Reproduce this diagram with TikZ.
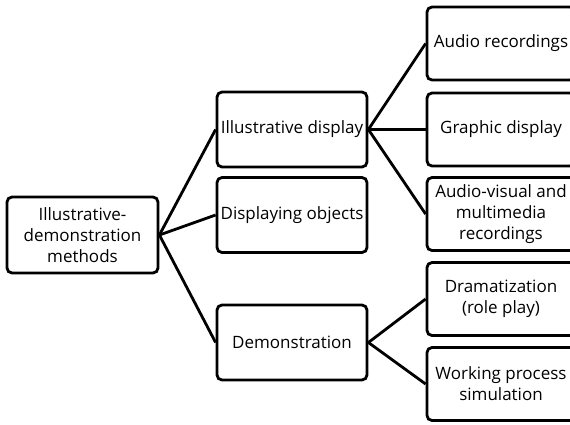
\documentclass[tikz,border=0pt]{standalone}
\usepackage{fontspec}
\setmainfont{Open Sans}

\begin{document}
\begin{tikzpicture}[x=1pt,y=-1pt,-,node distance=206pt,line width=2.8pt,
    main node/.style={rectangle,rounded corners=5pt,draw,align=center,inner sep=1pt,font=\fontsize{17}{21}\selectfont},
    root node/.style={main node,minimum width=151pt,minimum height=76pt},
    mid node/.style={main node,minimum width=150pt,minimum height=75pt},
    leaf node/.style={main node,minimum width=148pt,minimum height=73pt}]
    \useasboundingbox (0,0) rectangle (570,424);
    \clip (0,0) rectangle (570,424);
            \node[root node] (root) at (82.5,235) {Illustrative-\\demonstration\\methods};

            \node[mid node] (display) [right of=root, xshift=3.5pt, yshift=105.5pt] {Illustrative display};
            \node[mid node] (objects) [right of=root, xshift=3.5pt, yshift=20pt] {Displaying objects};
            \node[mid node] (demo) [right of=root, xshift=3.5pt, yshift=-107.5pt] {Demonstration};

            \node[leaf node] (audio) [right of=display, xshift=3pt, yshift=86pt] {Audio recordings};
            \node[leaf node] (graphic) [right of=display, xshift=3pt] {Graphic display};
            \node[leaf node] (media) [right of=display, xshift=3pt, yshift=-84.5pt] {Audio-visual and\\multimedia\\recordings};
            \node[leaf node] (drama) [right of=demo, xshift=3pt, yshift=43.5pt] {Dramatization\\(role play)};
            \node[leaf node] (work) [right of=demo, xshift=3pt, yshift=-41.5pt] {Working process\\simulation};

            \path
                (root.east) edge (display.west)
                (root.east) edge (objects.west)
                (root.east) edge (demo.west)

                (display.east) edge (audio.west)
                (display.east) edge (graphic.west)
                (display.east) edge (media.west)

                (demo.east) edge (drama.west)
                (demo.east) edge (work.west)
                ;
        \end{tikzpicture}
\end{document}
